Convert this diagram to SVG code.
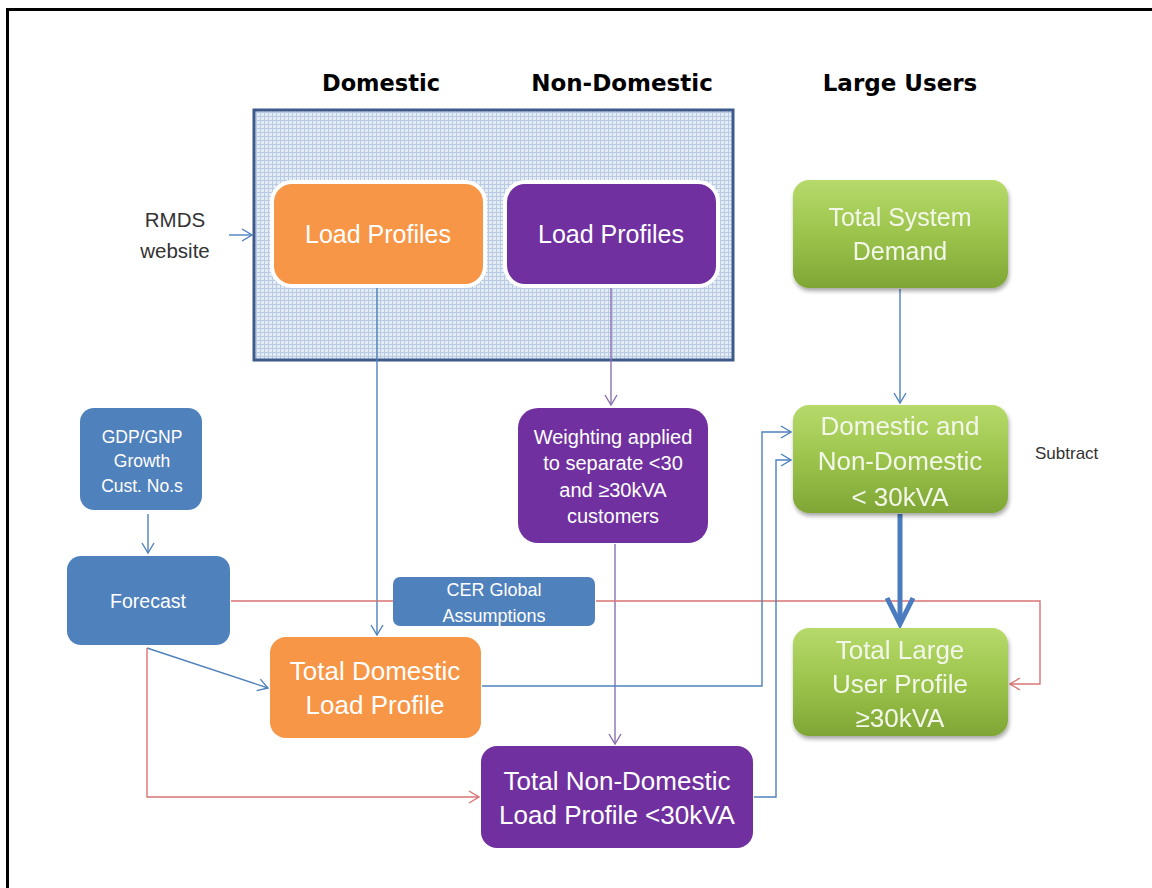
<svg xmlns="http://www.w3.org/2000/svg" width="1152" height="888" viewBox="0 0 1152 888">
<style>
.hdr{font-family:"DejaVu Sans",sans-serif;font-weight:bold;font-size:23px;fill:#000;text-anchor:middle}
.t{font-family:"Liberation Sans",Arial,sans-serif;fill:#fff;text-anchor:middle}
.g{fill:#f3f7ea}
.dark{fill:#333;}
.c{fill:none;stroke-width:1.4}
.blue{stroke:#4f81bd}
.pur{stroke:#8a6fb0}
.red{stroke:#d97474}
</style>
<defs>
<pattern id="grid" width="4" height="4" patternUnits="userSpaceOnUse">
<rect width="4" height="4" fill="#e3ebf5"/>
<path d="M0,0.5 H4 M0.5,0 V4" stroke="#b9cbe3" stroke-width="1"/>
</pattern>
<linearGradient id="green" x1="0" y1="0" x2="0" y2="1">
<stop offset="0" stop-color="#b7da6b"/>
<stop offset="0.5" stop-color="#9cc44c"/>
<stop offset="1" stop-color="#7fa635"/>
</linearGradient>
<filter id="sh" x="-10%" y="-10%" width="120%" height="130%">
<feGaussianBlur in="SourceAlpha" stdDeviation="2"/>
<feOffset dx="1" dy="3" result="b"/>
<feComponentTransfer><feFuncA type="linear" slope="0.35"/></feComponentTransfer>
<feMerge><feMergeNode/><feMergeNode in="SourceGraphic"/></feMerge>
</filter>
<marker id="ab" markerWidth="12" markerHeight="14" refX="11" refY="7" orient="auto" markerUnits="userSpaceOnUse">
<path d="M1,1 L11,7 L1,13" fill="none" stroke="#4f81bd" stroke-width="1.4"/>
</marker>
<marker id="ap" markerWidth="12" markerHeight="14" refX="11" refY="7" orient="auto" markerUnits="userSpaceOnUse">
<path d="M1,1 L11,7 L1,13" fill="none" stroke="#8a6fb0" stroke-width="1.4"/>
</marker>
<marker id="ar" markerWidth="12" markerHeight="14" refX="11" refY="7" orient="auto" markerUnits="userSpaceOnUse">
<path d="M1,1 L11,7 L1,13" fill="none" stroke="#d97474" stroke-width="1.4"/>
</marker>
</defs>
<rect width="1152" height="888" fill="#fff"/>
<path d="M7.5,888 V9.5 H1152" fill="none" stroke="#000" stroke-width="3"/>

<g id="headers">
<text class="hdr" x="381" y="91" font-size="22.5" style="font-size:22.5px">Domestic</text>
<text class="hdr" x="622" y="91">Non-Domestic</text>
<text class="hdr" x="900" y="91">Large Users</text>
</g>

<g id="panel">
<rect x="254" y="110" width="479" height="250" fill="url(#grid)" stroke="#3d5a8a" stroke-width="3"/>
</g>

<g id="connectors">
<path class="c blue" d="M229,235 H252" marker-end="url(#ab)"/>
<path class="c blue" d="M377,287 V635" marker-end="url(#ab)"/>
<path class="c pur" d="M611,287 V405" marker-end="url(#ap)"/>
<path class="c pur" d="M615,544 V744" marker-end="url(#ap)"/>
<path class="c blue" d="M900,289 V403" marker-end="url(#ab)"/>
<path class="c blue" d="M148,514 V553" marker-end="url(#ab)"/>
<path class="c blue" d="M147,648 L268,688" marker-end="url(#ab)"/>
<path class="c red" d="M231,601 H393"/>
<path class="c red" d="M596,601 H1040 V684 H1010" marker-end="url(#ar)"/>
<path class="c red" d="M147,648 V797 H479" marker-end="url(#ar)"/>
<path class="c blue" d="M482,686 H762 V432 H791" marker-end="url(#ab)"/>
<path class="c blue" d="M754,797 H776 V460 H791" marker-end="url(#ab)"/>
<path d="M900,514 V620" fill="none" stroke="#4a7cbf" stroke-width="5"/>
<path d="M887,598 L900,624 L913,598" fill="none" stroke="#4a7cbf" stroke-width="5" stroke-linejoin="miter"/>
</g>

<g id="rmds">
<text class="t dark" x="175" y="227" font-size="20.5">RMDS</text>
<text class="t dark" x="175" y="258" font-size="20.5">website</text>
</g>

<g id="lp-dom">
<rect x="272" y="182" width="213" height="104" rx="20" fill="#f79646" stroke="#fff" stroke-width="4"/>
<text class="t" x="378" y="243" font-size="25">Load Profiles</text>
</g>

<g id="lp-nondom">
<rect x="505" y="182" width="213" height="104" rx="20" fill="#7030a0" stroke="#fff" stroke-width="4"/>
<text class="t" x="611" y="243" font-size="25">Load Profiles</text>
</g>

<g id="tsd" filter="url(#sh)">
<rect x="793" y="180" width="215" height="108" rx="16" fill="url(#green)"/>
<text class="t g" x="900" y="226" font-size="25">Total System</text>
<text class="t g" x="900" y="260" font-size="25">Demand</text>
</g>

<g id="dnd" filter="url(#sh)">
<rect x="793" y="405" width="215" height="108" rx="16" fill="url(#green)"/>
<text class="t g" x="900" y="435" font-size="26">Domestic and</text>
<text class="t g" x="900" y="470" font-size="26">Non-Domestic</text>
<text class="t g" x="900" y="506" font-size="26">&lt; 30kVA</text>
</g>

<g id="subtract">
<text class="t dark" x="1035" y="459" font-size="17" style="text-anchor:start">Subtract</text>
</g>

<g id="tlu" filter="url(#sh)">
<rect x="793" y="628" width="215" height="108" rx="16" fill="url(#green)"/>
<text class="t g" x="900" y="659" font-size="26">Total Large</text>
<text class="t g" x="900" y="693" font-size="26">User Profile</text>
<text class="t g" x="900" y="727" font-size="26">≥30kVA</text>
</g>

<g id="gdp">
<rect x="80" y="408" width="122" height="102" rx="14" fill="#4f81bd"/>
<text class="t" x="142" y="443" font-size="17.5">GDP/GNP</text>
<text class="t" x="142" y="467" font-size="17.5">Growth</text>
<text class="t" x="142" y="492" font-size="17.5">Cust. No.s</text>
</g>

<g id="forecast">
<rect x="67" y="556" width="163" height="89" rx="14" fill="#4f81bd"/>
<text class="t" x="148" y="608" font-size="19.5">Forecast</text>
</g>

<g id="cer">
<rect x="393" y="577" width="202" height="49" rx="7" fill="#4f81bd"/>
<text class="t" x="494" y="596" font-size="18">CER Global</text>
<text class="t" x="494" y="622" font-size="18">Assumptions</text>
</g>

<g id="weighting">
<rect x="518" y="408" width="190" height="135" rx="20" fill="#7030a0"/>
<text class="t" x="613" y="444" font-size="20">Weighting applied</text>
<text class="t" x="613" y="470" font-size="20">to separate &lt;30</text>
<text class="t" x="613" y="497" font-size="20">and ≥30kVA</text>
<text class="t" x="613" y="523" font-size="20">customers</text>
</g>

<g id="tdom">
<rect x="270" y="637" width="211" height="101" rx="16" fill="#f79646"/>
<text class="t" x="375" y="680" font-size="26">Total Domestic</text>
<text class="t" x="375" y="714" font-size="26">Load Profile</text>
</g>

<g id="tnondom">
<rect x="481" y="746" width="272" height="102" rx="16" fill="#7030a0"/>
<text class="t" x="617" y="790" font-size="26">Total Non-Domestic</text>
<text class="t" x="617" y="824" font-size="26">Load Profile &lt;30kVA</text>
</g>
</svg>
